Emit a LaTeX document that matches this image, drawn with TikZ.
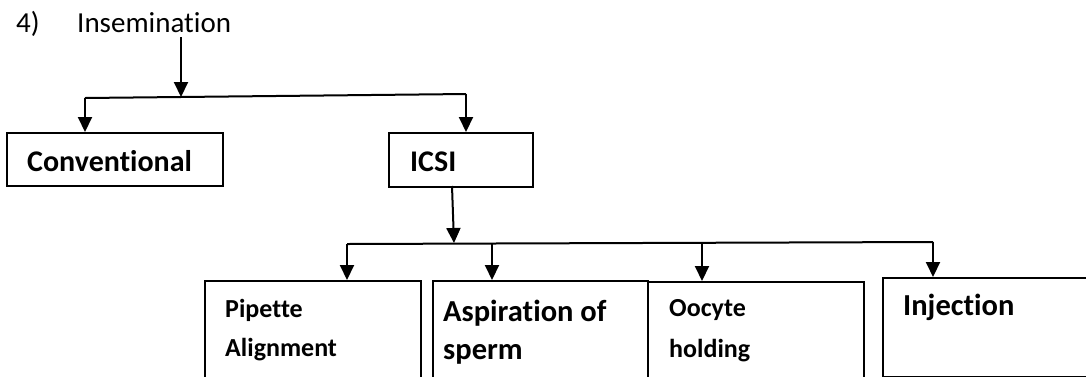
\documentclass[tikz,border=0pt]{standalone}
\usepackage{fontspec}
\setmainfont{Carlito}[Ligatures=NoCommon]
\usetikzlibrary{arrows.meta}
\begin{document}
\begin{tikzpicture}[x=1pt,y=-1pt,
  box/.style={draw,line width=2pt,inner sep=0pt,anchor=north west},
  arr/.style={line width=2pt,-{Triangle[width=14pt,length=15pt]}},
  bar/.style={line width=2pt},
  lbl/.style={anchor=base west,inner sep=0pt},
  big/.style={font=\fontsize{30.5}{36}\selectfont\bfseries},
  mid/.style={font=\fontsize{30}{35}\selectfont\bfseries},
  sml/.style={font=\fontsize{26}{30}\selectfont\bfseries},
  reg/.style={font=\fontsize{29}{34}\selectfont}]
\useasboundingbox (0,0) rectangle (1086,376);
\clip (0,0) rectangle (1086,376);
\fill[white] (0,0) rectangle (1086,376);
% title
\node[lbl,reg] (num) at (16,32) {4)};
\node[lbl,reg] (ins) at (77,32) {Insemination};
% boxes
\node[box,minimum width=216pt,minimum height=53pt] (conv) at (6,132) {};
\node[box,minimum width=144pt,minimum height=54pt] (icsi) at (388,132) {};
\node[box,minimum width=216pt,minimum height=120pt] (pip) at (204,280) {};
\node[box,minimum width=215pt,minimum height=120pt] (asp) at (432,280) {};
\node[box,minimum width=216pt,minimum height=120pt] (ooc) at (647,281) {};
\node[box,minimum width=220pt,minimum height=99pt] (inj) at (882,277) {};
% texts
\node[lbl,mid] (tconv) at (27,171) {Conventional};
\node[lbl,mid] (ticsi) at (410,171) {ICSI};
\node[lbl,sml] (tpip1) at (225,317) {Pipette};
\node[lbl,sml] (tpip2) at (225,356) {Alignment};
\node[lbl,big] (tasp1) at (443,321) {Aspiration of};
\node[lbl,big] (tasp2) at (443,359) {sperm};
\node[lbl,sml] (tooc1) at (669,316) {Oocyte};
\node[lbl,sml] (tooc2) at (669,357) {holding};
\node[lbl,big] (tinj) at (903,315) {Injection};
% first level connectors
\coordinate (insA) at (181,37);
\coordinate (j1) at (181,97);
\coordinate (b1l) at (85,98);
\coordinate (b1r) at (466,94);
\draw[arr] (insA) -- (j1);
\draw[bar] (b1l) -- (b1r);
\draw[arr] (b1l) -- (b1l |- conv.north);
\draw[arr] (b1r) -- (b1r |- icsi.north);
% second level connectors
\coordinate (icsiA) at (452,186);
\coordinate (j2) at (454,243);
\coordinate (b2l) at (347,244);
\coordinate (b2r) at (933,242);
\coordinate (b2a) at (492,244);
\coordinate (b2o) at (702,243);
\draw[arr] (icsiA) -- (j2);
\draw[bar] (b2l) -- (b2r);
\draw[arr] (b2l) -- (b2l |- pip.north);
\draw[arr] (b2a) -- (b2a |- asp.north);
\draw[arr] (b2o) -- (b2o |- ooc.north);
\draw[arr] (b2r) -- (b2r |- inj.north);
\end{tikzpicture}
\end{document}
